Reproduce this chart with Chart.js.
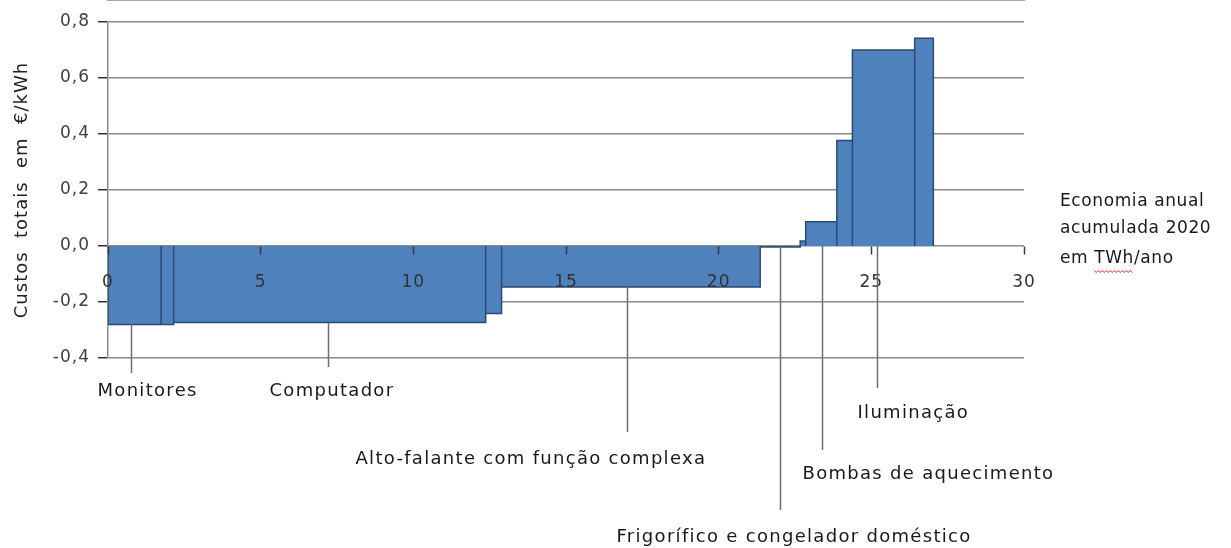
<!DOCTYPE html>
<html>
<head>
<meta charset="utf-8">
<script src="https://cdn.jsdelivr.net/npm/chart.js@4/dist/chart.umd.min.js"></script>
<style>
  body { margin: 0; background: #fff; }
  #wrap { width: 1231px; height: 548px; position: relative; }
</style>
</head>
<body>
<div id="wrap"><canvas id="curve"></canvas></div>
<script>
// cumulative annual savings 2020 (TWh/ano) at the right edge of each block
const barEnds = [1.74, 2.15, 12.37, 12.89, 21.36, 22.67, 22.85, 23.87, 24.38, 26.42, 27.03];
// total cost of each block (EUR/kWh)
const barCosts = [-0.28, -0.28, -0.273, -0.241, -0.146, -0.004, 0.018, 0.087, 0.377, 0.70, 0.742];

const xTicks = [0, 5, 10, 15, 20, 25, 30];
const yTicks = [-0.4, -0.2, 0, 0.2, 0.4, 0.6, 0.8];

// labelled products and where their pointer touches the curve (TWh)
const labelNames = ['Monitores', 'Computador', 'Alto-falante com função complexa',
  'Frigorífico e congelador doméstico', 'Bombas de aquecimento', 'Iluminação'];
const labelAt = [0.75, 7.2, 17.0, 22.0, 23.4, 25.2];

const axisTitleY = 'Custos  totais  em  €/kWh';
const axisTitleX = ['Economia anual', 'acumulada 2020', 'em TWh/ano'];

const FONT = '"DejaVu Sans", Verdana, sans-serif';

// step outline: each block goes down/up from zero and back
let outline = [{ x: 0, y: 0 }];
let start = 0;
for (let i = 0; i < barEnds.length; i++) {
    outline.push({ x: start, y: barCosts[i] });
    outline.push({ x: barEnds[i], y: barCosts[i] });
    outline.push({ x: barEnds[i], y: 0 });
    start = barEnds[i];
}

function costAt(x) {
    let s = 0;
    for (let i = 0; i < barEnds.length; i++) {
        if (x >= s && x <= barEnds[i]) return barCosts[i];
        s = barEnds[i];
    }
    return 0;
}

// where each label text goes, relative to its pointer line
const labelLayout = [
    { lineEnd: 373, dx: -34, ty: 391 },
    { lineEnd: 367, dx: -59, ty: 391 },
    { lineEnd: 432, dx: -272, ty: 459 },
    { lineEnd: 510, dx: -164, ty: 537 },
    { lineEnd: 450, dx: -20, ty: 474 },
    { lineEnd: 388, dx: -20, ty: 413 }
];

const spacingPlugin = {
    id: 'spacing',
    beforeDraw(chart) { chart.ctx.letterSpacing = '1px'; }
};

const notesPlugin = {
    id: 'notes',
    afterDraw(chart) {
        const ctx = chart.ctx;
        const xs = chart.scales.x, ys = chart.scales.y;
        ctx.save();
        ctx.letterSpacing = '1.3px';
        ctx.font = '18px ' + FONT;
        ctx.textBaseline = 'middle';
        ctx.textAlign = 'left';
        for (let i = 0; i < labelNames.length; i++) {
            const px = Math.round(xs.getPixelForValue(labelAt[i])) + 0.5;
            const py = ys.getPixelForValue(Math.min(0, costAt(labelAt[i])));
            const lay = labelLayout[i];
            ctx.strokeStyle = '#6e6e6e';
            ctx.lineWidth = 1.5;
            ctx.beginPath();
            ctx.moveTo(px, py);
            ctx.lineTo(px, lay.lineEnd);
            ctx.stroke();
            ctx.fillStyle = '#1a1a1a';
            ctx.fillText(labelNames[i], px + lay.dx, lay.ty);
        }
        // x axis title on the right
        ctx.letterSpacing = '0.6px';
        ctx.font = '17px ' + FONT;
        const tx = 1060;
        const lineY = [202, 229, 259];
        axisTitleX.forEach((t, k) => ctx.fillText(t, tx, lineY[k]));
        // red spell-check squiggle under "TWh"
        const w0 = tx + ctx.measureText('em ').width;
        const w1 = w0 + ctx.measureText('TWh').width;
        ctx.strokeStyle = '#e02020';
        ctx.lineWidth = 1;
        ctx.beginPath();
        for (let x = w0, k = 0; x <= w1; x += 2, k++) {
            const y = 271 + (k % 2 ? 1.5 : -0.5);
            if (k === 0) ctx.moveTo(x, y); else ctx.lineTo(x, y);
        }
        ctx.stroke();
        ctx.restore();
    }
};

const ctx = document.getElementById('curve').getContext('2d');
new Chart(ctx, {
    type: 'line',
    data: {
        datasets: [{
            data: outline,
            fill: 'origin',
            backgroundColor: '#4f81bd',
            borderColor: '#2b4a73',
            borderWidth: 1.5,
            pointRadius: 0,
            tension: 0
        }]
    },
    options: {
        responsive: true,
        maintainAspectRatio: false,
        animation: false,
        devicePixelRatio: 1,
        layout: { padding: { left: 0, right: 207, top: 22, bottom: 190 } },
        plugins: { legend: { display: false }, tooltip: { enabled: false } },
        scales: {
            x: {
                type: 'linear',
                position: { y: 0 },
                min: 0,
                max: 30,
                afterBuildTicks: s => { s.ticks = xTicks.map(v => ({ value: v })); },
                ticks: {
                    z: 2,
                    color: '#333',
                    font: { family: FONT, size: 17 },
                    padding: 18,
                    maxRotation: 0,
                    callback: v => String(v)
                },
                grid: { z: 2, drawOnChartArea: false, drawTicks: true, tickLength: 8, tickColor: '#3a3a3a', tickWidth: 1.5 },
                border: { display: true, color: '#8a8a8a', width: 1.5 }
            },
            y: {
                min: -0.4,
                max: 0.8,
                afterFit: s => { s.width = 108; },
                afterBuildTicks: s => { s.ticks = yTicks.map(v => ({ value: v })); },
                ticks: {
                    color: '#404040',
                    font: { family: FONT, size: 17 },
                    padding: 8,
                    callback: v => v.toFixed(1).replace('.', ',')
                },
                grid: { color: '#8a8a8a', lineWidth: 1.5, tickLength: 10, tickColor: '#333', tickWidth: 1.5 },
                border: { display: true, color: '#8a8a8a', width: 1.5 },
                title: {
                    display: true,
                    text: axisTitleY,
                    color: '#222',
                    font: { family: FONT, size: 18 },
                    padding: { top: 12, bottom: 0 }
                }
            }
        }
    },
    plugins: [spacingPlugin, notesPlugin]
});
</script>
</body>
</html>
